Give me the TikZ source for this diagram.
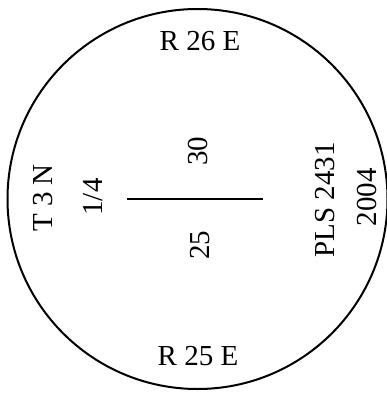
\documentclass[tikz,border=0pt]{standalone}
\usepackage{fontspec}
\setmainfont{Liberation Serif}
\begin{document}
\begin{tikzpicture}[x=1pt,y=-1pt,
  lbl/.style={inner sep=0pt,font=\fontsize{29}{32}\selectfont},
  vlbl/.style={lbl,rotate=90}]
\useasboundingbox (0,0) rectangle (387,399);
\node[draw,line width=2pt,circle,minimum size=380pt,inner sep=0pt] (ring) at (197.5,199) {};
\node[lbl] (r26) at (200,41) {R 26 E};
\node[lbl] (r25) at (198,356) {R 25 E};
\node[vlbl] (t3n) at (43,198) {T 3 N};
\node[vlbl] (q) at (93,197) {1/4};
\node[vlbl] (s30) at (198,151) {30};
\node[vlbl] (s25) at (200,245) {25};
\node[vlbl] (pls) at (325,200) {PLS 2431};
\node[vlbl] (yr) at (367,197) {2004};
\coordinate (la) at (127,199);
\coordinate (lb) at (263,199);
\draw[line width=2pt] (la) -- (lb);
\end{tikzpicture}
\end{document}
